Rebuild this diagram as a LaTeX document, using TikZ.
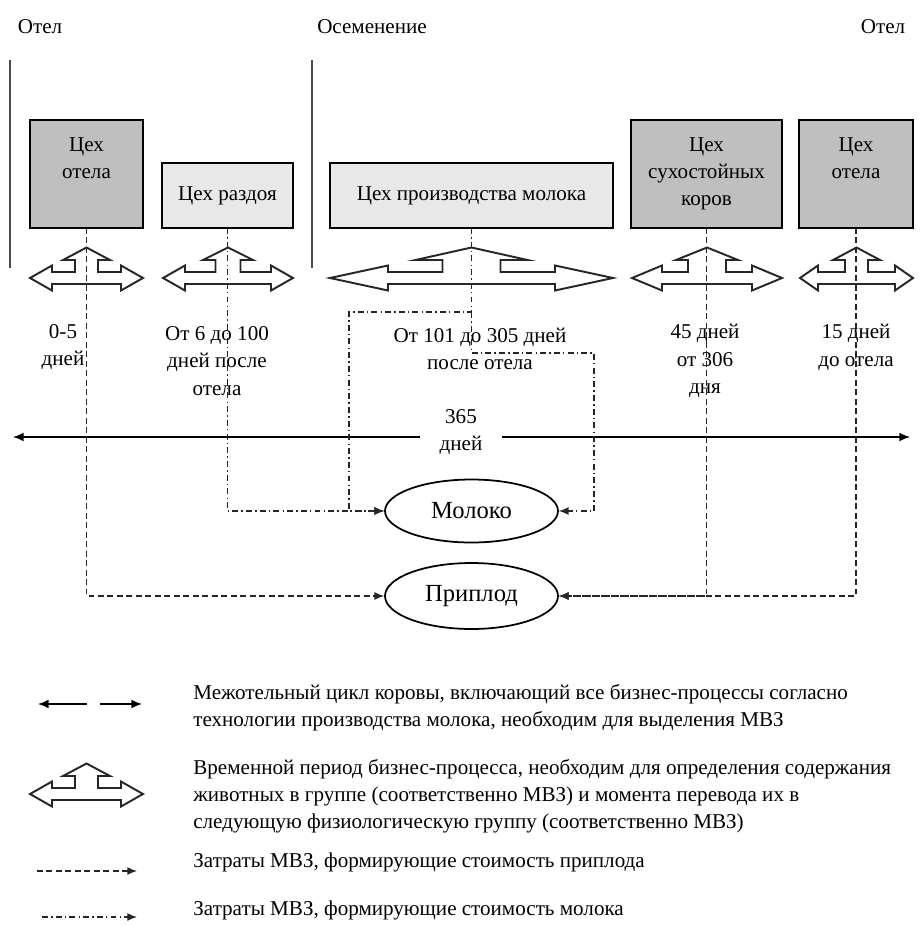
\documentclass[tikz,border=0pt]{standalone}
\usepackage{fontspec}
\setmainfont{Liberation Serif}
\usetikzlibrary{shapes.geometric,arrows.meta}

\tikzset{
	darkbox/.style={draw=black, line width=1.1pt, fill=black!25, inner sep=0pt, outer sep=0pt, minimum height=2.16cm, align=center, font=\fontsize{12}{15.3}\selectfont},
	lightbox/.style={darkbox, fill=black!9, minimum height=1.3cm},
	boxtext/.style={align=center, inner sep=0pt, font=\fontsize{12}{15.3}\selectfont},
	daytext/.style={align=center, inner sep=0pt, font=\fontsize{12}{15.8}\selectfont},
	eventline/.style={draw=black!70, line width=0.9pt},
	triarr/.style={draw=black!85, line width=1.1pt, fill=white, line join=miter},
	dayaxis/.style={line width=0.9pt, -{Latex[length=6pt,width=5pt]}},
	outcome/.style={ellipse, draw=black, line width=1pt, inner sep=0pt, minimum width=3.46cm, font=\fontsize{14}{16}\selectfont},
	calfcost/.style={draw=black!85, line width=0.7pt, dash pattern=on 3.4pt off 2pt, -{Latex[length=5.5pt,width=4.5pt]}},
	milkcost/.style={draw=black!85, line width=0.7pt, dash pattern=on 3.4pt off 1.8pt on 0.8pt off 1.8pt, -{Latex[length=5.5pt,width=4.5pt]}},
	legendtext/.style={anchor=west, align=left, inner sep=0pt, font=\fontsize{12}{15.5}\selectfont}
}

% period arrow: centre x, centre y, half length, head length, stem half width, up head half width
\newcommand{\triarrow}[6]{%
	\draw[triarr] (#1-#3,#2) -- (#1-#3+#4,#2-12.5) -- (#1-#3+#4,#2-6) -- (#1-#5,#2-6) -- (#1-#5,#2-18)
		-- (#1-#6,#2-18) -- (#1,#2-30.5) -- (#1+#6,#2-18) -- (#1+#5,#2-18) -- (#1+#5,#2-6)
		-- (#1+#3-#4,#2-6) -- (#1+#3-#4,#2-12.5) -- (#1+#3,#2) -- (#1+#3-#4,#2+12.5)
		-- (#1+#3-#4,#2+6) -- (#1-#3+#4,#2+6) -- (#1-#3+#4,#2+12.5) -- cycle;}

\begin{document}
\begin{tikzpicture}[x=0.02cm,y=-0.02cm]
	\useasboundingbox (0,0) rectangle (920,926);
	%events
	\node[boxtext] (otelL) at (40,27) {Отел};
	\node[boxtext] (osem) at (372,27) {Осеменение};
	\node[boxtext] (otelR) at (883,27) {Отел};
	\draw[eventline] (10,60) -- (10,268);
	\draw[eventline] (312,60) -- (312,268);

	%workshops
	\node[darkbox, minimum width=2.26cm] (otel1) at (86.5,174) {};
	\node[boxtext] (otel1t) at (86.5,158.5) {Цех\\отела};
	\node[lightbox, minimum width=2.62cm] (razdoy) at (227.5,195.5) {Цех раздоя};
	\node[lightbox, minimum width=5.66cm] (molbox) at (471.5,195.5) {Цех производства молока};
	\node[darkbox, minimum width=3.02cm] (suhost) at (706.5,174) {Цех\\сухостойных\\коров};
	\node[darkbox, minimum width=2.28cm] (otel2) at (856,174) {};
	\node[boxtext] (otel2t) at (856,158.5) {Цех\\отела};

	%periods
	\triarrow{86.5}{278}{56.5}{22}{11.5}{23.5}
	\triarrow{228}{278}{65}{22}{12.5}{25}
	\triarrow{471.5}{278}{141.5}{58}{29}{56}
	\triarrow{707}{278}{75}{30}{19}{31}
	\triarrow{856.5}{278}{56.5}{18}{11.5}{23.5}

	%durations
	\node[daytext] (d1) at (63,347) {0-5\\дней};
	\node[daytext] (d2) at (217,361) {От 6 до 100\\дней после\\отела};
	\node[daytext] (d3) at (480,349) {От 101 до 305 дней\\после отела};
	\node[daytext] (d4) at (705,361) {45 дней\\от 306\\дня};
	\node[daytext] (d5) at (856,347) {15 дней\\до отела};

	%year
	\node[daytext, inner xsep=0.38cm] (year) at (461,432) {365\\дней};
	\coordinate (yl) at (13,437);
	\coordinate (yr) at (910,437);
	\draw[dayaxis] (year.west |- yl) -- (yl);
	\draw[dayaxis] (year.east |- yr) -- (yr);

	%products
	\node[outcome, minimum height=1.26cm] (moloko) at (471.5,511) {Молоко};
	\node[outcome, minimum height=1.32cm] (priplod) at (471.5,596) {Приплод};

	%costs
	\draw[calfcost] (otel1.south) |- (priplod.west);
	\draw[calfcost] (suhost.south) |- (priplod.east);
	\draw[calfcost] (otel2.south) |- (priplod.east);
	\draw[milkcost] (razdoy.south) |- (moloko.west);
	\coordinate (mfork) at (471.5,312);
	\coordinate (mleft) at (349,312);
	\coordinate (mright) at (594,353);
	\draw[milkcost] (molbox.south) -- (mfork) -- (mleft) |- (moloko.west);
	\draw[milkcost] (mfork) |- (mright) |- (moloko.east);

	%legend
	\coordinate (k1l) at (38,704);
	\coordinate (k1a) at (87,704);
	\coordinate (k1b) at (100,704);
	\coordinate (k1r) at (142,704);
	\draw[dayaxis] (k1a) -- (k1l);
	\draw[dayaxis] (k1b) -- (k1r);
	\triarrow{86.5}{794}{56.5}{22}{11.5}{23.5}
	\coordinate (k3a) at (37,871);
	\coordinate (k3b) at (137,871);
	\draw[calfcost] (k3a) -- (k3b);
	\coordinate (k4a) at (42,917);
	\coordinate (k4b) at (137,917);
	\draw[milkcost] (k4a) -- (k4b);
	\node[legendtext] (k1t) at (193,708) {Межотельный цикл коровы, включающий все бизнес-процессы согласно\\технологии производства молока, необходим для выделения МВЗ};
	\node[legendtext] (k2t) at (193,796) {Временной период бизнес-процесса, необходим для определения содержания\\животных в группе (соответственно МВЗ) и момента перевода их в\\следующую физиологическую группу (соответственно МВЗ)};
	\node[legendtext] (k3t) at (193,862) {Затраты МВЗ, формирующие стоимость приплода};
	\node[legendtext] (k4t) at (193,910) {Затраты МВЗ, формирующие стоимость молока};
\end{tikzpicture}
\end{document}
